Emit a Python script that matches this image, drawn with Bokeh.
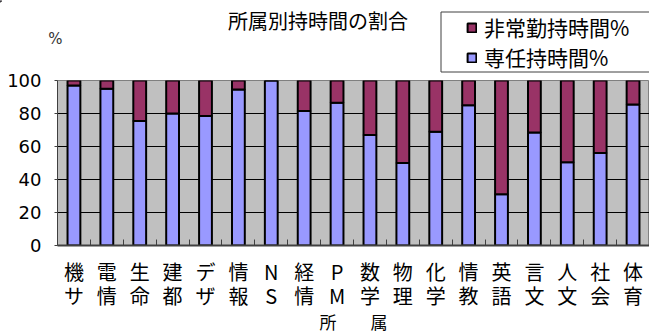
from bokeh.plotting import figure
from bokeh.layouts import column
from bokeh.models import (ColumnDataSource, Range1d, FixedTicker, Legend, LegendItem)
from bokeh.core.properties import value
from bokeh.embed import file_html
from bokeh.resources import INLINE

# 所属 (two-character abbreviations, drawn one character per line)
departments = ["機サ", "電情", "生命", "建都", "デザ", "情報", "NS", "経情", "PM",
               "数学", "物理", "化学", "情教", "英語", "言文", "人文", "社会", "体育"]
# 専任持時間% (full-time share)
senin = [97, 95, 75.5, 80, 78.5, 94.5, 100, 81.5, 86.5,
         67, 50, 69, 85, 31, 68.5, 50.5, 56, 85.5]
# 非常勤持時間% (part-time share)
hijokin = [3, 5, 24.5, 20, 21.5, 5.5, 0, 18.5, 13.5,
           33, 50, 31, 15, 69, 31.5, 49.5, 44, 14.5]
y_ticks = [0, 20, 40, 60, 80, 100]

title_text = "所属別持時間の割合"
legend_labels = ["非常勤持時間%", "専任持時間%"]
x_title = "所\u3000\u3000属"

BLUE = "#9999FF"
RED = "#993366"
CJK = "Noto Sans CJK JP"
W = 649
HEAD_H = 76      # header strip height
OVERLAP = 7      # the chart below starts this many pixels before the header ends
MAIN_TOP = HEAD_H - OVERLAP

# ---- header strip: title, unit mark and legend (pixel coordinates, y down) ----
head = figure(width=W, height=HEAD_H, output_backend="svg", toolbar_location=None,
              x_range=Range1d(0, W), y_range=Range1d(HEAD_H, 0),
              x_axis_type=None, y_axis_type=None, min_border=0,
              margin=(0, 0, -OVERLAP, 0))
head.frame_align = False
head.outline_line_color = None
head.background_fill_color = "white"
head.xgrid.visible = False
head.ygrid.visible = False

head.text(x=[317.5], y=[20], text=[title_text], text_font=value(CJK),
          text_font_size="20px", text_color="black",
          text_align="center", text_baseline="middle")
head.text(x=[55], y=[38], text=["%"], text_font=value("DejaVu Sans"),
          text_font_size="15px", text_color="#333333",
          text_align="center", text_baseline="middle")

# legend frame
head.quad(left=[440.5], right=[W + 10], top=[11.5], bottom=[71.5],
          fill_color="white", line_color="#404040", line_width=1)

# swatch renderers for the legend (kept off-screen)
sw_red = head.vbar(x=[-100], top=[1], width=1, fill_color=RED,
                   line_color="black", line_width=2)
sw_blue = head.vbar(x=[-100], top=[1], width=1, fill_color=BLUE,
                    line_color="black", line_width=2)

legend = Legend(items=[LegendItem(label=legend_labels[0], renderers=[sw_red]),
                       LegendItem(label=legend_labels[1], renderers=[sw_blue])],
                location=(466, 4),
                label_text_font=CJK, label_text_font_size="21px",
                label_text_color="black",
                glyph_width=11, glyph_height=11, label_standoff=7,
                label_height=24, spacing=0, padding=0, margin=0,
                border_line_color=None, background_fill_alpha=0)
head.add_layout(legend, "center")

# ---- main stacked bar chart ----
x = [i + 0.5 for i in range(len(departments))]
source = ColumnDataSource(dict(x=x, senin=senin, hijokin=hijokin))

p = figure(width=W, height=336 - MAIN_TOP, output_backend="svg",
           toolbar_location=None,
           x_range=Range1d(0, len(departments)), y_range=Range1d(0, 100),
           min_border_left=57, min_border_right=0, min_border_top=80 - MAIN_TOP,
           min_border_bottom=336 - 246)
p.frame_align = False
p.border_fill_alpha = 0
p.background_fill_color = "#C0C0C0"
p.outline_line_color = "#808080"

p.vbar_stack(["senin", "hijokin"], x="x", width=0.39, source=source,
             color=[BLUE, RED], line_color="black", line_width=2)

p.xgrid.visible = False
p.ygrid.ticker = FixedTicker(ticks=y_ticks)
p.ygrid.grid_line_color = "black"
p.ygrid.grid_line_width = 1

p.yaxis.ticker = FixedTicker(ticks=y_ticks)
p.yaxis.major_label_text_font = "DejaVu Sans"
p.yaxis.major_label_text_font_size = "18px"
p.yaxis.major_label_text_color = "black"
p.yaxis.axis_line_color = "#404040"
p.yaxis.major_tick_out = 3
p.yaxis.major_tick_in = 0
p.yaxis.major_tick_line_color = "#404040"
p.yaxis.minor_tick_line_color = None
p.yaxis.major_label_standoff = 13

p.xaxis.ticker = FixedTicker(ticks=x, minor_ticks=list(range(1, len(departments))))
p.xaxis.major_label_overrides = {xi: d[0] + "\n" + d[1] for xi, d in zip(x, departments)}
p.xaxis.major_label_text_font = CJK
p.xaxis.major_label_text_font_size = "20px"
p.xaxis.major_label_text_color = "black"
p.xaxis.major_label_text_line_height = 0.83
p.xaxis.major_tick_line_color = None
p.xaxis.major_tick_out = 0
p.xaxis.major_tick_in = 0
p.xaxis.minor_tick_in = 6
p.xaxis.minor_tick_out = 0
p.xaxis.minor_tick_line_color = "#404040"
p.xaxis.axis_line_color = "#404040"
p.xaxis.axis_line_width = 2
p.xaxis.major_label_standoff = 11
p.xaxis.axis_label = x_title
p.xaxis.axis_label_text_font = CJK
p.xaxis.axis_label_text_font_size = "17px"
p.xaxis.axis_label_text_font_style = "normal"
p.xaxis.axis_label_text_color = "black"
p.xaxis.axis_label_standoff = -4

layout = column(head, p, spacing=0)
open("out.html", "w").write(file_html(layout, INLINE))
